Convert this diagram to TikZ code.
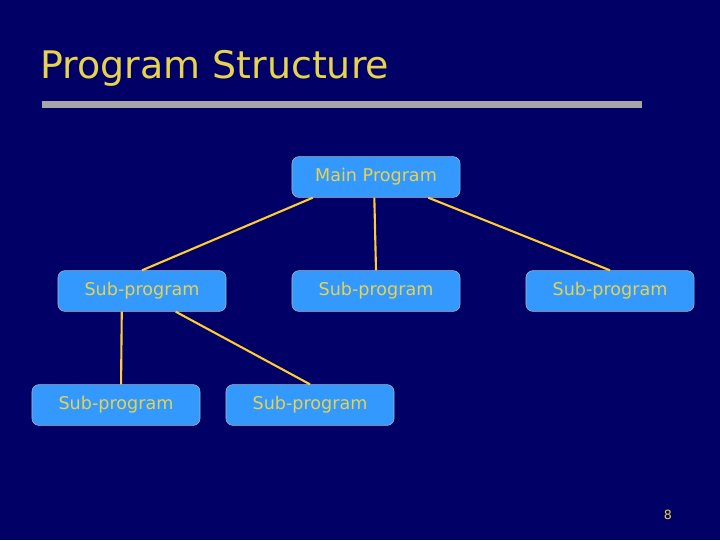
\documentclass[tikz,border=0pt]{standalone}
\usepackage{fontspec}
\setmainfont{DejaVu Sans}
\usetikzlibrary{calc,positioning}
\definecolor{slidebg}{HTML}{000066}
\definecolor{boxfill}{HTML}{3399FF}
\definecolor{boxtext}{HTML}{E6D34F}
\definecolor{linkcol}{HTML}{FFCC33}
\tikzset{
  prog/.style={draw=gray!60, fill=boxfill, rounded corners=5pt, minimum width=4.2cm, minimum height=1.02cm, text=boxtext, font=\fontsize{12.5}{14}\selectfont},
  link/.style={draw=linkcol, line width=1.5pt}
}
\begin{document}
\begin{tikzpicture}[x=0.025cm, y=-0.025cm]
\fill[slidebg] (0,0) rectangle (720,540);
\useasboundingbox (0,0) rectangle (720,540);
% title
\node[anchor=base west, inner sep=0, text=boxtext, font=\fontsize{27}{30}\selectfont] (title) at (40,78) {Program Structure};
\fill[gray!70] (42,101) rectangle (642,108);
% boxes
\node[prog] (main) at (376,177) {Main Program};
\node[prog] (s1) at (142,291) {Sub-program};
\node[prog] (s2) at (376,291) {Sub-program};
\node[prog] (s3) at (610,291) {Sub-program};
\node[prog] (t1) at (116,405) {Sub-program};
\node[prog] (t2) at (310,405) {Sub-program};
% links
\draw[link] ($(main.south west)!0.125!(main.south east)$) -- (s1.north);
\draw[link] ($(main.south west)!0.49!(main.south east)$) -- (s2.north);
\draw[link] ($(main.south west)!0.81!(main.south east)$) -- (s3.north);
\draw[link] ($(s1.south west)!0.38!(s1.south east)$) -- ($(t1.north west)!0.53!(t1.north east)$);
\draw[link] ($(s1.south west)!0.70!(s1.south east)$) -- (t2.north);
\node[text=boxtext, font=\small] (pnum) at (668,515) {8};
\end{tikzpicture}
\end{document}
